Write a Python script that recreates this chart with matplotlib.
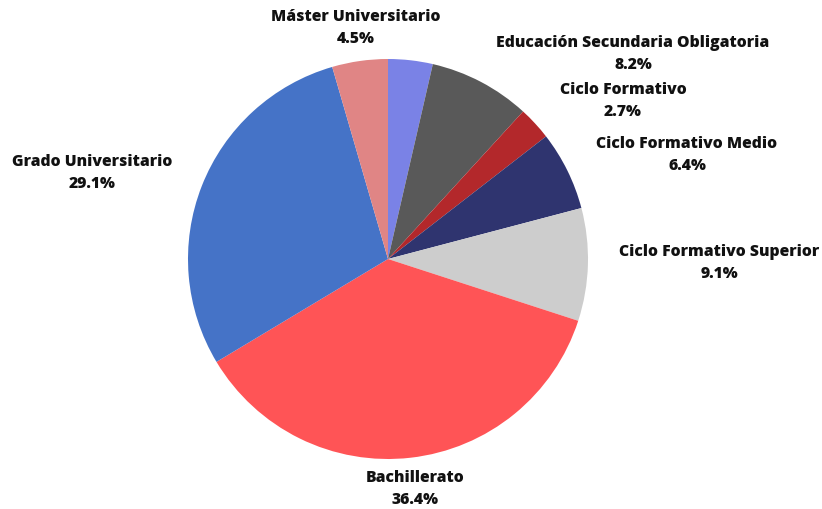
import matplotlib.pyplot as plt

plt.rcParams['font.family'] = ['Open Sans', 'DejaVu Sans']

# Nivel de estudios, en el sentido de las agujas del reloj desde arriba
niveles = ['Otros', 'Educación Secundaria Obligatoria', 'Ciclo Formativo',
           'Ciclo Formativo Medio', 'Ciclo Formativo Superior', 'Bachillerato',
           'Grado Universitario', 'Máster Universitario']
porcentajes = [3.6, 8.2, 2.7, 6.4, 9.1, 36.4, 29.1, 4.5]
colores = ['#7a82e6', '#595959', '#b3282b', '#2f346f', '#cdcdcd',
           '#ff5456', '#4573c7', '#e08585']

# posición (x, y en píxeles desde arriba) de cada etiqueta; None = sin etiqueta
pos_etiquetas = [None, (633, 54), (623, 101), (687, 155), (719, 263),
                 (415, 489), (92, 173), (356, 28)]

fig = plt.figure(figsize=(8.22, 5.09), dpi=100)
ax = fig.add_axes([0, 0, 1, 1])

ax.pie(porcentajes, colors=colores, startangle=90, counterclock=False,
       center=(388, 250), radius=200, frame=True,
       wedgeprops=dict(linewidth=0))
ax.set_xlim(0, 822)
ax.set_ylim(0, 509)
ax.axis('off')

for nombre, valor, pos in zip(niveles, porcentajes, pos_etiquetas):
    if pos is None:
        continue
    ax.text(pos[0], 509 - pos[1], f'{nombre}\n{valor:.1f}%', ha='center',
            va='center', fontsize=11.3, fontweight='heavy', color='#111111',
            linespacing=1.55)

fig.savefig('out.png', dpi=100, facecolor='white')
